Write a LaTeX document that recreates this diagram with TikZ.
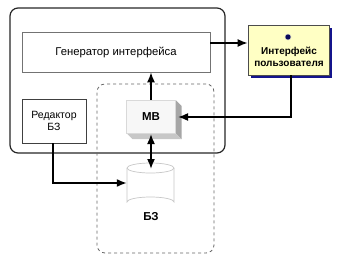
\documentclass[tikz,border=0pt]{standalone}
\usepackage{fontspec}
\setmainfont{Liberation Sans}
\usetikzlibrary{arrows.meta}
\definecolor{uifill}{RGB}{255,255,196}
\definecolor{uishadow}{RGB}{20,20,140}
\definecolor{navy}{RGB}{10,10,90}
\tikzset{
  conn/.style={line width=1.6pt,-{Latex[length=10pt,width=8pt]}},
  dconn/.style={line width=1.6pt,{Latex[length=10pt,width=8pt]}-{Latex[length=10pt,width=8pt]}},
  lbl/.style={font=\fontsize{10.5}{12.5}\selectfont,align=center,inner sep=0pt},
  genlbl/.style={font=\fontsize{11.3}{13}\selectfont,align=center,inner sep=0pt},
  blbl/.style={font=\fontsize{10}{12}\selectfont\bfseries,align=center,inner sep=0pt},
  bigblbl/.style={font=\fontsize{11.5}{13}\selectfont\bfseries,align=center,inner sep=0pt},
}
\begin{document}
\begin{tikzpicture}[x=1pt,y=-1pt]
\useasboundingbox (0,0) rectangle (358,260);
% outer rounded box
\node[draw=black!85,line width=1.2pt,rounded corners=8pt,minimum width=215pt,minimum height=145pt,inner sep=0pt] (outer) at (117.5,80.5) {};
% dashed box
\node[draw=black!60,dashed,line width=0.8pt,rounded corners=8pt,minimum width=117pt,minimum height=169pt,inner sep=0pt] (dash) at (155.5,168.5) {};
% generator
\node[draw=black!55,fill=white,line width=0.6pt,minimum width=188pt,minimum height=40pt,inner sep=0pt,genlbl] (gen) at (116,52) {Генератор интерфейса};
% editor
\node[draw=black!75,fill=white,line width=0.7pt,minimum width=64pt,minimum height=44pt,inner sep=0pt,lbl] (ed) at (54,121) {Редактор\\БЗ};
% MB 3D box
\fill[black!35] (175.5,100) -- (181.5,106) -- (181.5,139) -- (175.5,133) -- cycle;
\fill[black!22] (126.5,133) -- (175.5,133) -- (181.5,139) -- (132.5,139) -- cycle;
\node[draw=black!15,fill=black!3,line width=0.5pt,minimum width=49pt,minimum height=33pt,inner sep=0pt,bigblbl] (mb) at (151,116.5) {МВ};
% database cylinder
\fill[white,draw=black!22,line width=0.7pt] (127,168) -- (127,202) arc[start angle=180,end angle=360,x radius=23.5,y radius=5] -- (174,168) arc[start angle=0,end angle=-180,x radius=23.5,y radius=5] -- cycle;
\draw[black!22,line width=0.7pt] (127,168) arc[start angle=180,end angle=0,x radius=23.5,y radius=5];
\node[minimum width=47pt,minimum height=34pt,inner sep=0pt] (db) at (150.5,185) {};
\node[bigblbl] (dblabel) at (151,217) {БЗ};
% user interface
\fill[uishadow] (251,28) rectangle (332,78);
\node[draw=black!70,fill=uifill,line width=0.6pt,minimum width=81pt,minimum height=50pt,inner sep=0pt] (ui) at (288.5,50) {};
\node[blbl] (uilabel) at (289,57) {Интерфейс\\пользователя};
\node[circle,fill=navy,draw=uifill!60!black!40,line width=0.5pt,minimum size=6pt,inner sep=0pt] (icon) at (288,37) {};
% connectors
\coordinate (uiturn) at (291,117);
\coordinate (edturn) at (53,183);
\draw[conn] (mb.north) -- (gen.south -| mb.north);
\draw[conn] (gen.east |- 0,43) -- (ui.west |- 0,43);
\draw[conn] (ui.south -| uiturn) -- (uiturn) -- (178,117);
\draw[dconn] (151,134) -- (151,169);
\draw[conn] (ed.south -| edturn) -- (edturn) -- (db.west |- edturn);
\end{tikzpicture}
\end{document}
